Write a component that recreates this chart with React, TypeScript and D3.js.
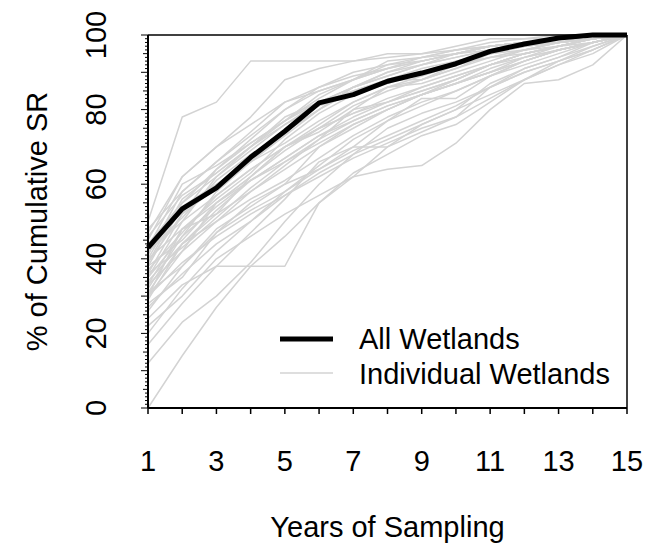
import React from "react";
import * as d3 from "d3";

const years = d3.range(1, 16);
const allWetlands = [43, 53.4, 59, 67.2, 74.2, 81.8, 84, 87.6, 89.8, 92.3, 95.6, 97.6, 99.2, 100, 100];

const individualWetlands: number[][] = [
  [50, 78, 82, 93, 93, 93, 93, 95, 95, 97, 99, 99, 100, 100, 100],
  [0, 14, 27, 38, 46, 55, 63, 68, 73, 76, 82, 88, 93, 97, 100],
  [12, 23, 30, 39, 50, 60, 68, 75, 79, 82, 86, 90, 93, 96, 100],
  [17, 28, 38, 38, 38, 55, 62, 70, 76, 80, 87, 91, 94, 98, 100],
  [22, 30, 40, 46, 52, 57, 62, 64, 65, 71, 80, 87, 88, 92, 100],
  [24, 33, 38, 47, 56, 66, 70, 77, 83, 83, 89, 93, 96, 98, 100],
  [28, 35, 47, 55, 60, 70, 76, 80, 84, 87, 90, 94, 96, 98, 100],
  [29, 44, 50, 58, 65, 72, 80, 82, 85, 88, 92, 95, 97, 99, 100],
  [30, 42, 55, 62, 70, 74, 80, 86, 88, 92, 94, 95, 97, 99, 100],
  [30, 48, 56, 63, 72, 79, 84, 88, 88, 91, 95, 96, 98, 99, 100],
  [31, 38, 48, 54, 60, 64, 70, 70, 74, 78, 86, 90, 93, 96, 100],
  [32, 46, 58, 66, 74, 80, 86, 90, 93, 95, 97, 98, 99, 100, 100],
  [33, 48, 52, 62, 70, 75, 79, 83, 86, 89, 92, 95, 97, 98, 100],
  [34, 44, 52, 58, 64, 70, 75, 80, 84, 88, 92, 95, 97, 99, 100],
  [35, 50, 62, 70, 78, 82, 86, 90, 92, 94, 96, 98, 98, 99, 100],
  [36, 52, 64, 72, 80, 86, 90, 92, 94, 95, 97, 98, 99, 100, 100],
  [37, 47, 57, 64, 70, 76, 82, 86, 87, 90, 93, 96, 98, 99, 100],
  [38, 45, 55, 62, 69, 75, 81, 85, 88, 91, 94, 96, 97, 99, 100],
  [38, 54, 60, 66, 73, 80, 86, 89, 92, 95, 96, 98, 98, 99, 100],
  [39, 55, 64, 71, 77, 82, 85, 88, 90, 93, 95, 97, 98, 100, 100],
  [40, 56, 63, 70, 77, 84, 88, 92, 93, 95, 97, 98, 99, 100, 100],
  [40, 48, 55, 61, 66, 71, 76, 80, 84, 87, 91, 94, 97, 99, 100],
  [41, 58, 66, 74, 82, 86, 89, 91, 93, 95, 97, 98, 99, 100, 100],
  [42, 51, 61, 68, 74, 80, 85, 88, 91, 93, 95, 97, 99, 100, 100],
  [43, 60, 65, 71, 77, 83, 88, 93, 94, 96, 97, 98, 99, 100, 100],
  [44, 55, 62, 69, 76, 81, 84, 87, 90, 92, 94, 96, 98, 99, 100],
  [45, 62, 70, 76, 82, 85, 88, 91, 94, 96, 98, 99, 99, 100, 100],
  [46, 57, 63, 70, 76, 82, 86, 89, 92, 94, 96, 97, 98, 99, 100],
  [47, 62, 70, 78, 88, 91, 93, 94, 95, 96, 97, 98, 99, 100, 100],
  [48, 58, 66, 73, 80, 85, 88, 91, 93, 95, 97, 98, 99, 100, 100],
  [27, 36, 44, 50, 57, 63, 68, 72, 76, 80, 84, 88, 92, 96, 100],
  [26, 38, 47, 53, 58, 64, 69, 73, 77, 81, 86, 91, 94, 97, 100],
  [33, 42, 50, 56, 61, 67, 73, 78, 82, 85, 89, 93, 96, 98, 100],
  [20, 32, 42, 50, 58, 65, 72, 77, 81, 85, 89, 92, 95, 98, 100],
  [36, 43, 51, 59, 66, 72, 77, 81, 84, 87, 90, 93, 96, 98, 100],
  [42, 50, 57, 64, 70, 75, 79, 82, 85, 88, 92, 95, 97, 99, 100],
  [30, 39, 46, 52, 57, 62, 67, 71, 75, 78, 83, 88, 92, 95, 100],
  [35, 46, 54, 61, 67, 73, 78, 82, 86, 89, 92, 94, 96, 98, 100],
  [39, 52, 59, 66, 71, 77, 82, 86, 89, 92, 95, 97, 98, 99, 100],
  [31, 44, 53, 61, 67, 73, 77, 81, 84, 87, 90, 93, 96, 98, 100],
];

const xTickLabels = [1, 3, 5, 7, 9, 11, 13, 15];
const yTickLabels = [0, 20, 40, 60, 80, 100];
const legendLabels = ["All Wetlands", "Individual Wetlands"];
const xTitle = "Years of Sampling";
const yTitle = "% of Cumulative SR";

const W = 656;
const H = 546;
const FONT = "'Liberation Sans', Arial, sans-serif";

export default function App() {
  const x = d3.scaleLinear().domain([1, 15]).range([148, 627]);
  const y = d3.scaleLinear().domain([0, 100]).range([408, 35]);
  const line = d3
    .line<number>()
    .x((_, i) => x(years[i]))
    .y((d) => y(d));
  const yMinor = d3.range(0, 101, 1);
  const gray = "#d3d3d3";

  return (
    <svg
      width={W}
      height={H}
      style={{ position: "absolute", left: 0, top: 0, background: "#fff" }}
      fontFamily={FONT}
    >
      <rect x={0} y={0} width={W} height={H} fill="#fff" />
      <g>
        {individualWetlands.map((s, i) => (
          <path key={i} d={line(s) || ""} fill="none" stroke={gray} strokeWidth={1.5} strokeLinejoin="round" />
        ))}
        <path d={line(allWetlands) || ""} fill="none" stroke="#000" strokeWidth={5} strokeLinejoin="round" />
      </g>
      {/* frame */}
      <line x1={x(1)} x2={x(15)} y1={y(100)} y2={y(100)} stroke="#000" strokeWidth={1.5} />
      <line x1={x(15)} x2={x(15)} y1={y(100)} y2={y(0)} stroke="#000" strokeWidth={1.5} />
      {/* x axis */}
      <line x1={x(1)} x2={x(15)} y1={y(0)} y2={y(0)} stroke="#000" strokeWidth={2} />
      {years.map((v) => (
        <line key={v} x1={x(v)} x2={x(v)} y1={y(0)} y2={y(0) + 6} stroke="#000" strokeWidth={1.5} />
      ))}
      {xTickLabels.map((v) => (
        <text key={v} x={x(v)} y={471} textAnchor="middle" fontSize={29} fill="#000">
          {v}
        </text>
      ))}
      <text x={(x(1) + x(15)) / 2} y={537} textAnchor="middle" fontSize={29} fill="#000">
        {xTitle}
      </text>
      {/* y axis */}
      <line x1={x(1)} x2={x(1)} y1={y(0)} y2={y(100)} stroke="#000" strokeWidth={2} />
      {yMinor.map((v) => {
        const len = v % 10 === 0 ? 7 : v % 5 === 0 ? 5 : 3;
        return (
          <line key={v} x1={x(1) - len} x2={x(1)} y1={y(v)} y2={y(v)} stroke="#000" strokeWidth={1} />
        );
      })}
      {yTickLabels.map((v) => (
        <text
          key={v}
          transform={`translate(106,${y(v)}) rotate(-90)`}
          textAnchor="middle"
          fontSize={29}
          fill="#000"
        >
          {v}
        </text>
      ))}
      <text
        transform={`translate(47,${(y(0) + y(100)) / 2}) rotate(-90)`}
        textAnchor="middle"
        fontSize={29}
        fill="#000"
      >
        {yTitle}
      </text>
      {/* legend */}
      <line x1={280} x2={333} y1={339} y2={339} stroke="#000" strokeWidth={5} />
      <text x={359} y={349} fontSize={29} fill="#000">
        {legendLabels[0]}
      </text>
      <line x1={280} x2={333} y1={373} y2={373} stroke={gray} strokeWidth={1.5} />
      <text x={359} y={384} fontSize={29} fill="#000">
        {legendLabels[1]}
      </text>
    </svg>
  );
}
